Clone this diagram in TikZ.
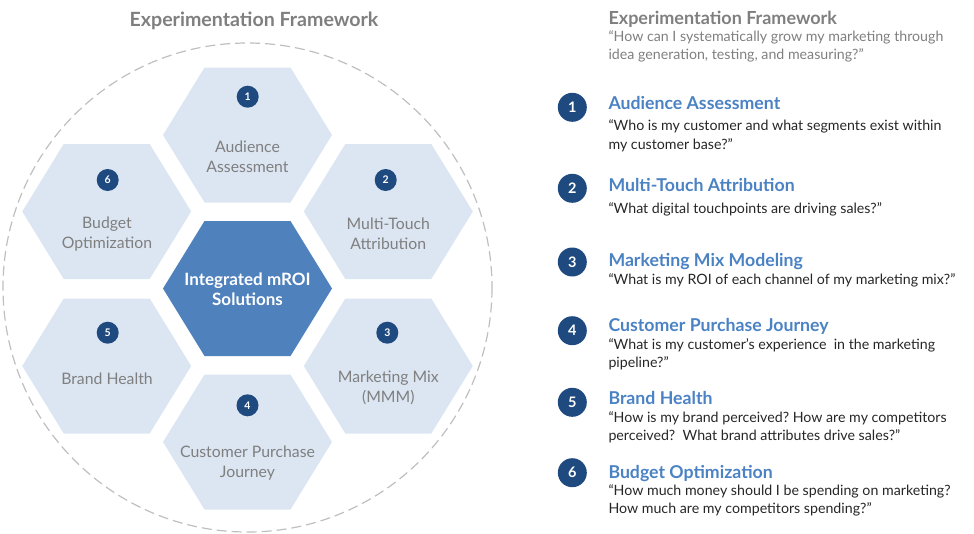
\documentclass[tikz,border=0pt]{standalone}
\usepackage{fontspec}
\setmainfont{Lato}
\frenchspacing
\begin{document}
\begin{tikzpicture}[x=1pt,y=-1pt]
\definecolor{hexlight}{HTML}{DCE6F2}
\definecolor{hexdark}{HTML}{4F81BD}
\definecolor{navy}{HTML}{1F4A7F}
\definecolor{txtgray}{HTML}{7F7F7F}
\definecolor{headblue}{HTML}{4A82C3}
\definecolor{qtxt}{HTML}{262626}
\definecolor{ringgray}{HTML}{BFBFBF}
\tikzset{
  hexlabel/.style={text=txtgray,align=center,font=\fontsize{15.8}{20}\selectfont,inner sep=0pt},
  centerlabel/.style={text=white,align=center,font=\bfseries\fontsize{17}{20}\selectfont,inner sep=0pt},
  smallbadge/.style={circle,fill=navy,text=white,minimum size=22pt,inner sep=0pt,font=\bfseries\fontsize{10.5}{12}\selectfont},
  bigbadge/.style={circle,fill=navy,text=white,minimum size=29pt,inner sep=0pt,font=\bfseries\fontsize{14.5}{16}\selectfont},
  headtxt/.style={anchor=base west,inner sep=0pt,text=headblue,font=\bfseries\fontsize{17.7}{20}\selectfont},
  quotetxt/.style={anchor=base west,inner sep=0pt,text=qtxt,font=\fontsize{14.2}{18}\selectfont},
  topquote/.style={anchor=base west,inner sep=0pt,text=txtgray,font=\fontsize{14.2}{18}\selectfont},
  hexpath/.pic={\fill[pic actions] (84.5,0) -- (43,67.5) -- (-43,67.5) -- (-84.5,0) -- (-43,-67.5) -- (43,-67.5) -- cycle;}
}
\useasboundingbox (0,0) rectangle (974,533);
% ring
\draw[ringgray,line width=1.2pt,dash pattern=on 10pt off 5pt] (247.5,287.5) circle (244.5);
% title
\node[text=txtgray,font=\bfseries\fontsize{19.6}{22}\selectfont,inner sep=0pt] (title) at (254,20.7) {Experimentation Framework};
% hexagons
\pic[fill=hexlight] at (247.5,135) {hexpath};
\pic[fill=hexlight] at (388.3,211.5) {hexpath};
\pic[fill=hexlight] at (388.3,366) {hexpath};
\pic[fill=hexlight] at (247.5,442) {hexpath};
\pic[fill=hexlight] at (106.7,366) {hexpath};
\pic[fill=hexlight] at (106.7,211.5) {hexpath};
\pic[fill=hexdark] at (247.5,288.5) {hexpath};
% hex badges
\node[smallbadge] (b1) at (247.7,96.7) {1};
\node[smallbadge] (b2) at (385.7,180) {2};
\node[smallbadge] (b3) at (387.3,332.7) {3};
\node[smallbadge] (b4) at (247.5,405.3) {4};
\node[smallbadge] (b5) at (107.7,332.7) {5};
\node[smallbadge] (b6) at (107.7,180) {6};
% hex labels
\node[hexlabel] (l1) at (247.5,156.7) {Audience\\Assessment};
\node[hexlabel] (l2) at (388.3,234) {Multi-Touch\\Attribution};
\node[hexlabel] (l3) at (388.3,388.3) {Marketing Mix\\(MMM)};
\node[hexlabel] (l4) at (247.5,463.3) {Customer Purchase\\Journey};
\node[hexlabel] (l5) at (107,378.3) {Brand Health};
\node[hexlabel] (l6) at (107,234) {Budget\\Optimization};
\node[centerlabel] (lc) at (247.5,289) {Integrated mROI\\Solutions};
% right column
\node[anchor=base west,inner sep=0pt,text=txtgray,font=\bfseries\fontsize{18}{20}\selectfont] (rtitle) at (608.3,24.3) {Experimentation Framework};
\node[topquote] (rq1) at (608.3,41.5) {“How can I systematically grow my marketing through};
\node[topquote] (rq2) at (608.3,59.1) {idea generation, testing, and measuring?”};
% item 1
\node[bigbadge] (rb1) at (572.3,107.3) {1};
\node[headtxt] (h1) at (608.3,109.8) {Audience Assessment};
\node[quotetxt] (q1a) at (608.3,130.8) {“Who is my customer and what segments exist within};
\node[quotetxt] (q1b) at (608.3,149.8) {my customer base?”};
% item 2
\node[bigbadge] (rb2) at (572.3,188.3) {2};
\node[headtxt] (h2) at (608.3,191.8) {Multi-Touch Attribution};
\node[quotetxt] (q2a) at (608.3,213.1) {“What digital touchpoints are driving sales?”};
% item 3
\node[bigbadge] (rb3) at (572.3,262) {3};
\node[headtxt] (h3) at (608.3,266.8) {Marketing Mix Modeling};
\node[quotetxt] (q3a) at (608.3,284.8) {“What is my ROI of each channel of my marketing mix?”};
% item 4
\node[bigbadge] (rb4) at (572.3,330.7) {4};
\node[headtxt] (h4) at (608.3,331.5) {Customer Purchase Journey};
\node[quotetxt] (q4a) at (608.3,349.1) {“What is my customer’s experience\ \ in the marketing};
\node[quotetxt] (q4b) at (608.3,367.1) {pipeline?”};
% item 5
\node[bigbadge] (rb5) at (572.3,402.3) {5};
\node[headtxt] (h5) at (608.3,404.8) {Brand Health};
\node[quotetxt] (q5a) at (608.3,422.5) {“How is my brand perceived? How are my competitors};
\node[quotetxt] (q5b) at (608.3,440.5) {perceived?\ \ What brand attributes drive sales?”};
% item 6
\node[bigbadge] (rb6) at (572.3,472.7) {6};
\node[headtxt] (h6) at (608.3,478.1) {Budget Optimization};
\node[quotetxt] (q6a) at (608.3,495.8) {“How much money should I be spending on marketing?};
\node[quotetxt] (q6b) at (608.3,513.5) {How much are my competitors spending?”};
\end{tikzpicture}
\end{document}
